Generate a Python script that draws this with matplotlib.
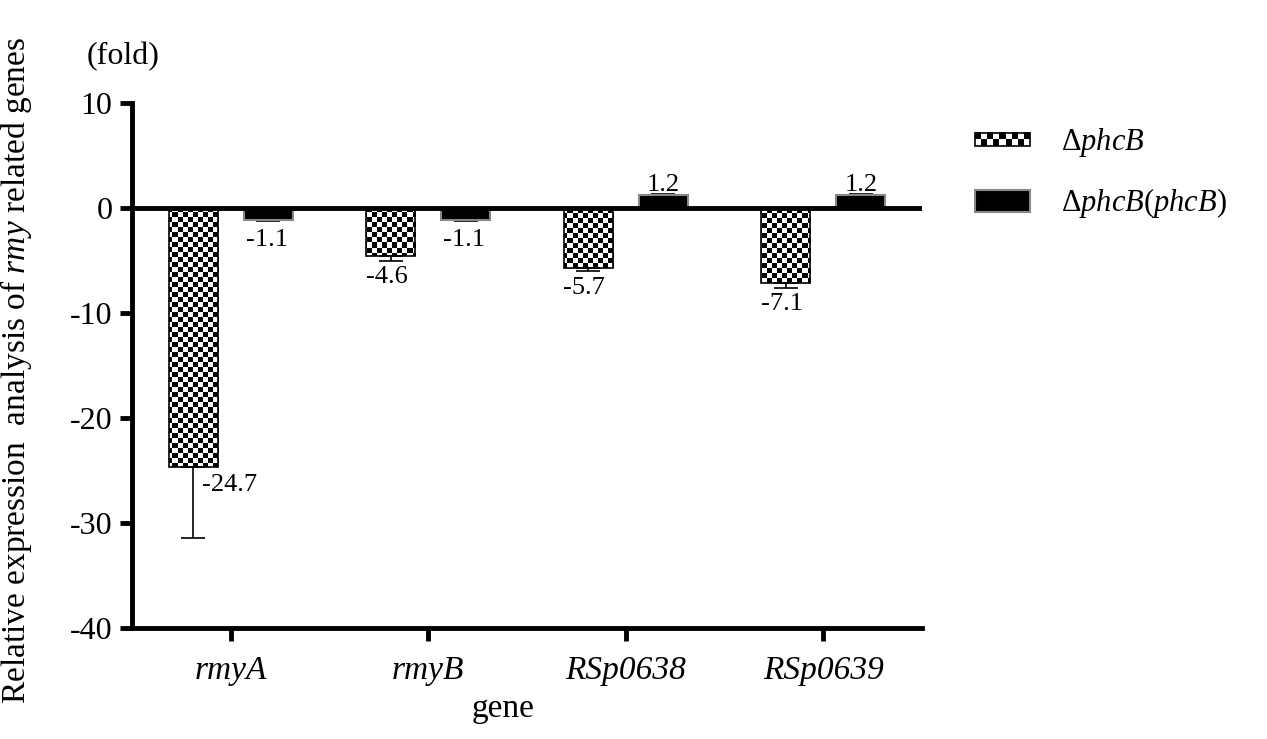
import numpy as np
import matplotlib
matplotlib.use("Agg")
import matplotlib.pyplot as plt
from matplotlib.patches import Rectangle, Patch
from matplotlib.legend_handler import HandlerBase
from matplotlib.image import BboxImage
from matplotlib.transforms import Bbox, TransformedBbox

genes = ["rmyA", "rmyB", "RSp0638", "RSp0639"]
mutant = [-24.7, -4.6, -5.7, -7.1]          # delta phcB
mutant_err = [6.7, 0.4, 0.3, 0.5]
complemented = [-1.1, -1.1, 1.2, 1.2]       # delta phcB(phcB)
complemented_err = [0.1, 0.1, 0.1, 0.1]
yticks = [-40, -30, -20, -10, 0, 10]

plt.rcParams["font.family"] = "Liberation Serif"
plt.rcParams["mathtext.fontset"] = "custom"
plt.rcParams["mathtext.rm"] = "Liberation Serif"
plt.rcParams["mathtext.it"] = "Liberation Serif:italic"
plt.rcParams["axes.unicode_minus"] = False


def checker(rows, cols):
    return (np.indices((rows, cols)).sum(axis=0) % 2).astype(float)


class CheckerHandler(HandlerBase):
    def create_artists(self, legend, orig_handle, xdescent, ydescent,
                       width, height, fontsize, trans):
        h = height * 0.6
        y0 = -ydescent + (height - h) / 2
        bb = TransformedBbox(Bbox.from_bounds(-xdescent, y0, width, h), trans)
        img = BboxImage(bb, cmap="gray", interpolation="nearest", norm=None)
        img.set_data(checker(2, 9))
        img.set_clim(0, 1)
        rect = Rectangle((-xdescent, y0), width, h, fill=False,
                         edgecolor="black", lw=1.2, transform=trans)
        return [img, rect]


fig = plt.figure(figsize=(12.67, 7.39), dpi=100)
ax = fig.add_axes([132 / 1267, 111 / 739, 790 / 1267, 525 / 739])

x = np.arange(len(genes))
off = 0.19
w = 0.25

bars1 = ax.bar(x - off, mutant, w, facecolor="white", edgecolor="black",
               lw=1.2, zorder=2)
bars2 = ax.bar(x + off, complemented, w, facecolor="black", edgecolor="#888888",
               lw=1.5, zorder=2)

# checkerboard fill of the mutant bars
board = checker(105, 158)
for b in bars1:
    im = ax.imshow(board, cmap="gray", interpolation="nearest", aspect="auto",
                   extent=(0, 1, 0, 1), transform=ax.transAxes, zorder=2.5,
                   vmin=0, vmax=1)
    im.set_clip_path(b)
    b.set_zorder(3)
    b.set_facecolor("none")

# error bars point away from zero
lo1 = [e if v < 0 else 0 for v, e in zip(mutant, mutant_err)]
hi1 = [e if v > 0 else 0 for v, e in zip(mutant, mutant_err)]
lo2 = [e if v < 0 else 0 for v, e in zip(complemented, complemented_err)]
hi2 = [e if v > 0 else 0 for v, e in zip(complemented, complemented_err)]
ax.errorbar(x - off, mutant, yerr=[lo1, hi1], fmt="none", ecolor="black",
            elinewidth=1.2, capsize=8.6, capthick=1.2, zorder=4)
ax.errorbar(x + off, complemented, yerr=[lo2, hi2], fmt="none", ecolor="black",
            elinewidth=1.2, capsize=8.6, capthick=1.2, zorder=1.5)

# value labels
fs_val = 19
for i, (v, e) in enumerate(zip(mutant, mutant_err)):
    if i == 0:
        ax.annotate(f"{v:.1f}", (x[i] - off, v), xytext=(6, -5),
                    textcoords="offset points", ha="left", va="top", fontsize=fs_val)
    else:
        ax.annotate(f"{v:.1f}", (x[i] - off, v - e), xytext=(-3, -4),
                    textcoords="offset points", ha="center", va="top", fontsize=fs_val)
for i, (v, e) in enumerate(zip(complemented, complemented_err)):
    if v < 0:
        ax.annotate(f"{v:.1f}", (x[i] + off, v - e), xytext=(-1, -6),
                    textcoords="offset points", ha="center", va="top", fontsize=fs_val)
    else:
        ax.annotate(f"{v:.1f}", (x[i] + off, v + e), xytext=(0, -1),
                    textcoords="offset points", ha="center", va="bottom", fontsize=fs_val)

ax.axhline(0, color="black", lw=3.5, zorder=5)

ax.set_xlim(-0.5, 3.5)
ax.set_ylim(-40, 10)
ax.set_yticks(yticks)
ax.set_xticks(x)
ax.set_xticklabels(genes, fontstyle="italic", fontsize=24)
ax.tick_params(axis="y", labelsize=23, length=9, width=3.5, pad=5)
ax.tick_params(axis="x", length=9, width=3.5, pad=11)
for s in ["top", "right"]:
    ax.spines[s].set_visible(False)
for s in ["left", "bottom"]:
    ax.spines[s].set_linewidth(3.5)

ax.set_ylabel(r"Relative expression  analysis of $\mathit{rmy}$ related genes",
              fontsize=24)
ax.yaxis.set_label_coords(-0.124, 0.49)
ax.set_xlabel("gene", fontsize=24)
ax.xaxis.set_label_coords(0.47, -0.125)

fig.text(123 / 1267, 1 - 57 / 739, "(fold)", ha="center", va="center", fontsize=23)

handles = [Patch(), Patch(facecolor="black", edgecolor="#888888", lw=1.5)]
labels = [r"$\Delta\mathit{phcB}$", r"$\Delta\mathit{phcB}(\mathit{phcB})$"]
leg = fig.legend(handles, labels, loc="upper left",
                 bbox_to_anchor=(975 / 1267, 1 - 126 / 739),
                 frameon=False, fontsize=22, borderpad=0, borderaxespad=0,
                 handlelength=1.8, handleheight=0.75, handletextpad=1.0,
                 labelspacing=0.9,
                 handler_map={handles[0]: CheckerHandler()})

fig.savefig("out.png", dpi=100)
